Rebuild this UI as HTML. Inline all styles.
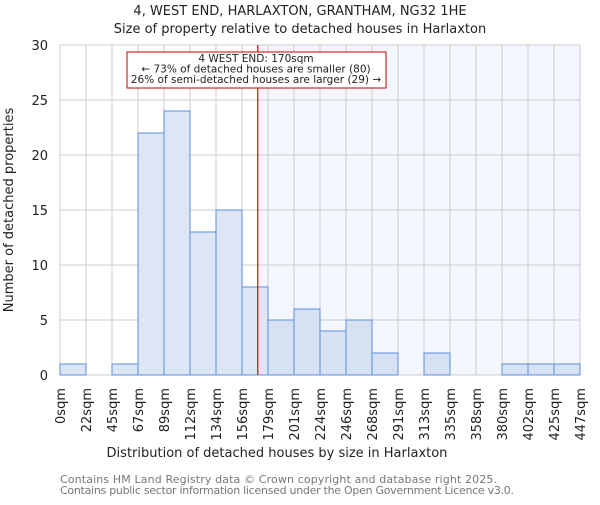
<!DOCTYPE html>
<html><head><meta charset="utf-8"><style>
body{margin:0;background:#fff;}
svg{font-family:"DejaVu Sans","Liberation Sans",sans-serif;}
</style></head><body>
<svg id="chart" width="600" height="500" viewBox="0 0 600 500">
<text x="300" y="15" text-anchor="middle" font-size="13" fill="#222">4, WEST END, HARLAXTON, GRANTHAM, NG32 1HE</text>
<text x="300" y="33" text-anchor="middle" font-size="13" fill="#222">Size of property relative to detached houses in Harlaxton</text>
<g id="plot"></g>
<text x="277" y="457" text-anchor="middle" font-size="13" fill="#222">Distribution of detached houses by size in Harlaxton</text>
<text transform="translate(13,210) rotate(-90)" text-anchor="middle" font-size="13" fill="#222">Number of detached properties</text>
<text x="60" y="483" font-size="11" fill="#777" textLength="437">Contains HM Land Registry data © Crown copyright and database right 2025.</text>
<text x="60" y="494" font-size="11" fill="#777" textLength="454">Contains public sector information licensed under the Open Government Licence v3.0.</text>
</svg>
<script>
const binLabels = ["0sqm","22sqm","45sqm","67sqm","89sqm","112sqm","134sqm","156sqm","179sqm","201sqm","224sqm","246sqm","268sqm","291sqm","313sqm","335sqm","358sqm","380sqm","402sqm","425sqm","447sqm"];
const binEdges = [0,22.35,44.7,67.05,89.4,111.75,134.1,156.45,178.8,201.15,223.5,245.85,268.2,290.55,312.9,335.25,357.6,379.95,402.3,424.65,447];
const counts = [1,0,1,22,24,13,15,8,5,6,4,5,2,0,2,0,0,1,1,1];
const yTicks = [0,5,10,15,20,25,30];
const markerValue = 170;

const L=60,R=580,T=45,B=375,ymax=30;
const xs=v=>L+(v-binEdges[0])/(binEdges[binEdges.length-1]-binEdges[0])*(R-L);
const ys=v=>B-v/ymax*(B-T);
const NS="http://www.w3.org/2000/svg";
const g=document.getElementById('plot');
function mk(tag,attrs){const e=document.createElementNS(NS,tag);for(const k in attrs)e.setAttribute(k,attrs[k]);g.appendChild(e);return e;}

const mx=xs(markerValue);
let e=mk('rect',{x:mx,y:T,width:R-mx,height:B-T,fill:'#f3f6fd'});


binEdges.forEach((b,i)=>{const l=mk('line',{x1:xs(b),x2:xs(b),y1:T,y2:B,stroke:'#cccccc','stroke-width':1});

});
yTicks.forEach(t=>{const l=mk('line',{x1:L,x2:R,y1:ys(t),y2:ys(t),stroke:'#cccccc','stroke-width':1});


const tx=mk('text',{x:L-12,y:ys(t)+5,'text-anchor':'end','font-size':13,fill:'#222'});tx.textContent=t;

});
counts.forEach((c,i)=>{const x0=xs(binEdges[i]),x1=xs(binEdges[i+1]);
const r=mk('rect',{x:x0,y:ys(c),width:x1-x0,height:B-ys(c),fill:binEdges[i]>=markerValue?'#d6e1f3':'#dce6f5',stroke:'#5b8fd9','stroke-width':1});

});
binLabels.forEach((lb,i)=>{const x=xs(binEdges[i]);
const t=mk('text',{transform:`translate(${x+5},388) rotate(-90)`,'text-anchor':'end','font-size':13,fill:'#222'});t.textContent=lb;

});
e=mk('line',{x1:mx,x2:mx,y1:T,y2:B,stroke:'#dd0000','stroke-width':1.2});


e=mk('rect',{x:127,y:52,width:259,height:36,fill:'#fff',stroke:'#cc0000','stroke-width':1});


["4 WEST END: 170sqm","← 73% of detached houses are smaller (80)","26% of semi-detached houses are larger (29) →"].forEach((s,i)=>{
const t=mk('text',{x:256,y:62+i*10.5,'text-anchor':'middle','font-size':10.5,fill:'#222'});t.textContent=s;

});
</script>
</body></html>
